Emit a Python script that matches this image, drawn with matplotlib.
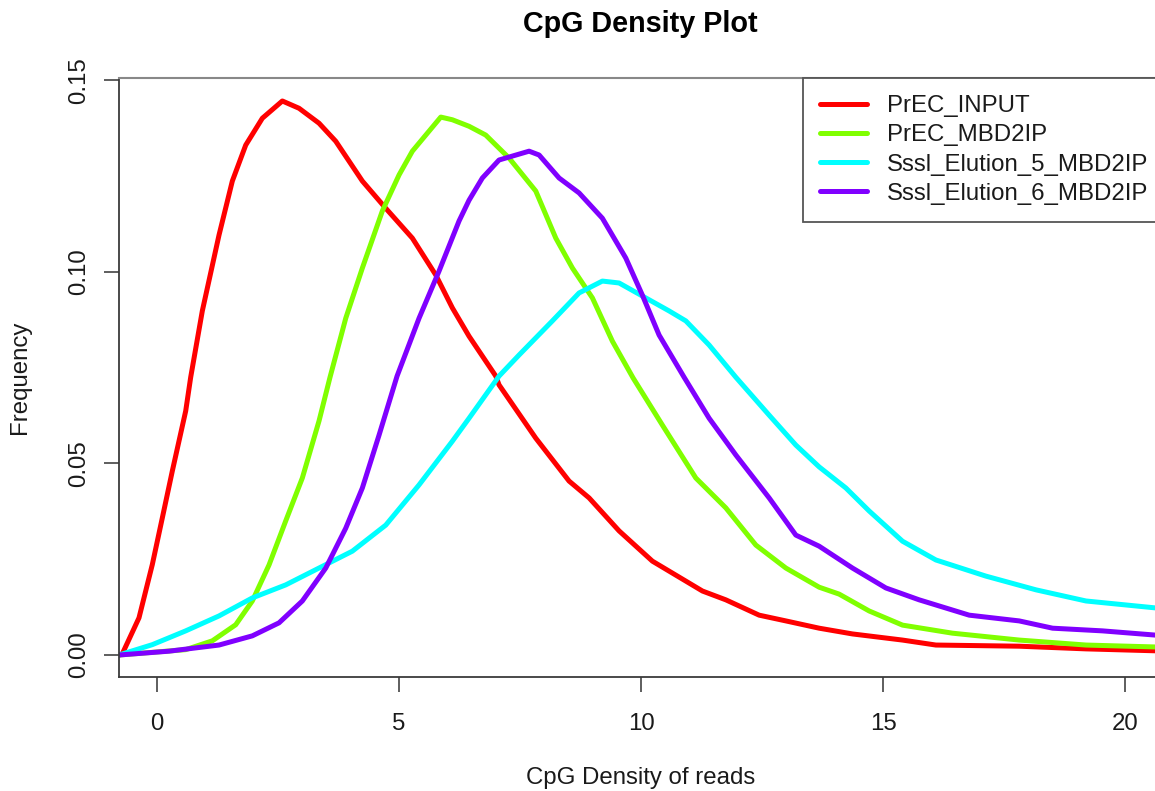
import matplotlib
matplotlib.use("Agg")
import matplotlib.pyplot as plt

plt.rcParams['font.family'] = ['Liberation Sans', 'DejaVu Sans']

# ---- data ----
series_names = ["PrEC_INPUT", "PrEC_MBD2IP", "SssI_Elution_5_MBD2IP", "SssI_Elution_6_MBD2IP"]
legend_labels = ["PrEC_INPUT", "PrEC_MBD2IP", "Sssl_Elution_5_MBD2IP", "Sssl_Elution_6_MBD2IP"]
series_colors = ["#FF0000", "#80FF00", "#00FFFF", "#8000FF"]

input_x = [-0.785, -0.717, -0.372, -0.097, 0.110, 0.316, 0.593, 0.696, 0.936, 1.281, 1.556, 1.833,
           2.176, 2.589, 2.934, 3.347, 3.692, 4.242, 4.725, 5.275, 5.758, 6.101, 6.446, 6.998,
           7.066, 7.824, 8.512, 8.926, 9.545, 10.233, 11.267, 11.750, 12.438, 12.99, 13.678,
           14.366, 15.399, 16.089, 17.81, 19.19, 20.62]
input_y = [0.0, 0.0003, 0.0097, 0.0236, 0.0358, 0.0480, 0.0637, 0.0725, 0.0898, 0.1096, 0.1237, 0.1331,
           0.1401, 0.1446, 0.1427, 0.1388, 0.1341, 0.1237, 0.1166, 0.1088, 0.0992, 0.0906, 0.0832, 0.0728,
           0.0705, 0.0566, 0.0454, 0.0410, 0.0324, 0.0245, 0.0167, 0.0144, 0.0104, 0.0089, 0.0070,
           0.0055, 0.0039, 0.0026, 0.0023, 0.0016, 0.0011]

mbd_x = [-0.785, 0.593, 1.143, 1.626, 1.969, 2.314, 2.659, 3.002, 3.347, 3.574, 3.899, 4.242, 4.655,
         5.000, 5.275, 5.552, 5.862, 6.101, 6.446, 6.791, 7.273, 7.824, 8.238, 8.581, 8.994, 9.407,
         9.835, 10.440, 11.130, 11.750, 12.370, 12.99, 13.678, 14.09, 14.71, 15.40, 16.43, 17.81,
         19.19, 20.62]
mbd_y = [0.0, 0.0014, 0.0037, 0.0079, 0.0141, 0.0235, 0.0350, 0.0462, 0.0611, 0.0725, 0.0879, 0.1010, 0.1159,
         0.1253, 0.1315, 0.1357, 0.1404, 0.1397, 0.1380, 0.1357, 0.1297, 0.1211, 0.1088, 0.1010, 0.0932, 0.0819,
         0.0723, 0.0600, 0.0462, 0.0384, 0.0287, 0.0227, 0.0177, 0.0159, 0.0115, 0.0078, 0.0057, 0.0039,
         0.0026, 0.0021]

e5_x = [-0.785, -0.097, 0.593, 1.281, 1.969, 2.659, 3.347, 4.035, 4.725, 5.413, 6.101, 6.446, 7.066,
        7.479, 8.167, 8.719, 9.200, 9.545, 10.097, 10.579, 10.924, 11.405, 11.957, 12.645, 13.196,
        13.678, 14.229, 14.71, 15.40, 16.09, 17.12, 18.16, 19.19, 20.62]
e5_y = [0.0, 0.0027, 0.0063, 0.0102, 0.0149, 0.0183, 0.0227, 0.0271, 0.0339, 0.0444, 0.0558, 0.0618, 0.0728,
        0.0783, 0.0872, 0.0945, 0.0976, 0.0971, 0.0932, 0.0898, 0.0872, 0.0809, 0.0725, 0.0626, 0.0548,
        0.0491, 0.0436, 0.0376, 0.0297, 0.0248, 0.0206, 0.0170, 0.0141, 0.0123]

e6_x = [-0.785, 0.248, 1.281, 1.969, 2.521, 3.002, 3.486, 3.899, 4.242, 4.587, 4.959, 5.413, 5.826,
        6.240, 6.446, 6.721, 7.066, 7.686, 7.893, 8.306, 8.719, 9.200, 9.684, 10.027, 10.372, 10.888,
        11.405, 11.957, 12.645, 13.196, 13.678, 14.366, 15.056, 15.744, 16.777, 17.81, 18.50, 19.53, 20.62]
e6_y = [0.0, 0.0010, 0.0026, 0.0050, 0.0084, 0.0141, 0.0227, 0.0331, 0.0436, 0.0574, 0.0728, 0.0879, 0.1002,
        0.1133, 0.1187, 0.1245, 0.1292, 0.1315, 0.1305, 0.1245, 0.1206, 0.1140, 0.1036, 0.0939, 0.0835, 0.0725,
        0.0618, 0.0522, 0.0410, 0.0313, 0.0284, 0.0227, 0.0175, 0.0144, 0.0104, 0.0089, 0.0070, 0.0063, 0.0052]

x_ticks = [0, 5, 10, 15, 20]
x_tick_labels = ["0", "5", "10", "15", "20"]
y_ticks = [0.00, 0.05, 0.10, 0.15]
y_tick_labels = ["0.00", "0.05", "0.10", "0.15"]

title = "CpG Density Plot"
x_label = "CpG Density of reads"
y_label = "Frequency"

# ---- figure ----
W, H = 1155, 791
fig = plt.figure(figsize=(W / 100, H / 100), dpi=100)
ax_left, ax_right, ax_top, ax_bottom = 119, 1162, 78, 677
ax = fig.add_axes([ax_left / W, 1 - ax_bottom / H, (ax_right - ax_left) / W, (ax_bottom - ax_top) / H])

fs = 17.28  # 24 px
lw = 3.6

xs = [input_x, mbd_x, e5_x, e6_x]
ys = [input_y, mbd_y, e5_y, e6_y]
for x, y, c, lab in zip(xs, ys, series_colors, legend_labels):
    ax.plot(x, y, color=c, lw=lw, label=lab, solid_joinstyle='round', solid_capstyle='round')

ax.set_xlim(-0.785, 20.76)
ax.set_ylim(-0.00574, 0.1506)

ax.set_xticks(x_ticks)
ax.set_xticklabels(x_tick_labels)
ax.set_yticks(y_ticks)
ax.set_yticklabels(y_tick_labels, rotation=90, va='center')

ax.tick_params(axis='both', direction='out', length=10.8, width=1.1, color='#333333',
               labelsize=fs, labelcolor='#1a1a1a')
ax.tick_params(axis='x', pad=15)
ax.tick_params(axis='y', pad=10)

for side in ['left', 'bottom']:
    ax.spines[side].set_color('#3a3a3a')
    ax.spines[side].set_linewidth(1.3)
ax.spines['top'].set_color('#888888')
ax.spines['top'].set_linewidth(1.5)
ax.spines['right'].set_color('#888888')

ax.set_title(title, fontsize=fs * 1.2, fontweight='bold', pad=33, color='#000000')
ax.set_xlabel(x_label, fontsize=fs, color='#1a1a1a')
ax.xaxis.set_label_coords(0.5, -(778 - ax_bottom) / (ax_bottom - ax_top))
ax.xaxis.label.set_va('center')
ax.set_ylabel(y_label, fontsize=fs, color='#1a1a1a')
ax.yaxis.set_label_coords((20 - ax_left) / (ax_right - ax_left), 0.5)
ax.yaxis.label.set_va('center')

leg = ax.legend(loc='upper left', bbox_to_anchor=(803 / W, 1 - 78 / H), bbox_transform=fig.transFigure,
                borderaxespad=0, fontsize=fs, handlelength=1.96, handletextpad=0.83,
                borderpad=0.72, labelspacing=0.3, fancybox=False, framealpha=1,
                edgecolor='#555555')
leg.get_frame().set_linewidth(1.3)
for t in leg.get_texts():
    t.set_color('#1a1a1a')

fig.savefig("out.png", dpi=100)
